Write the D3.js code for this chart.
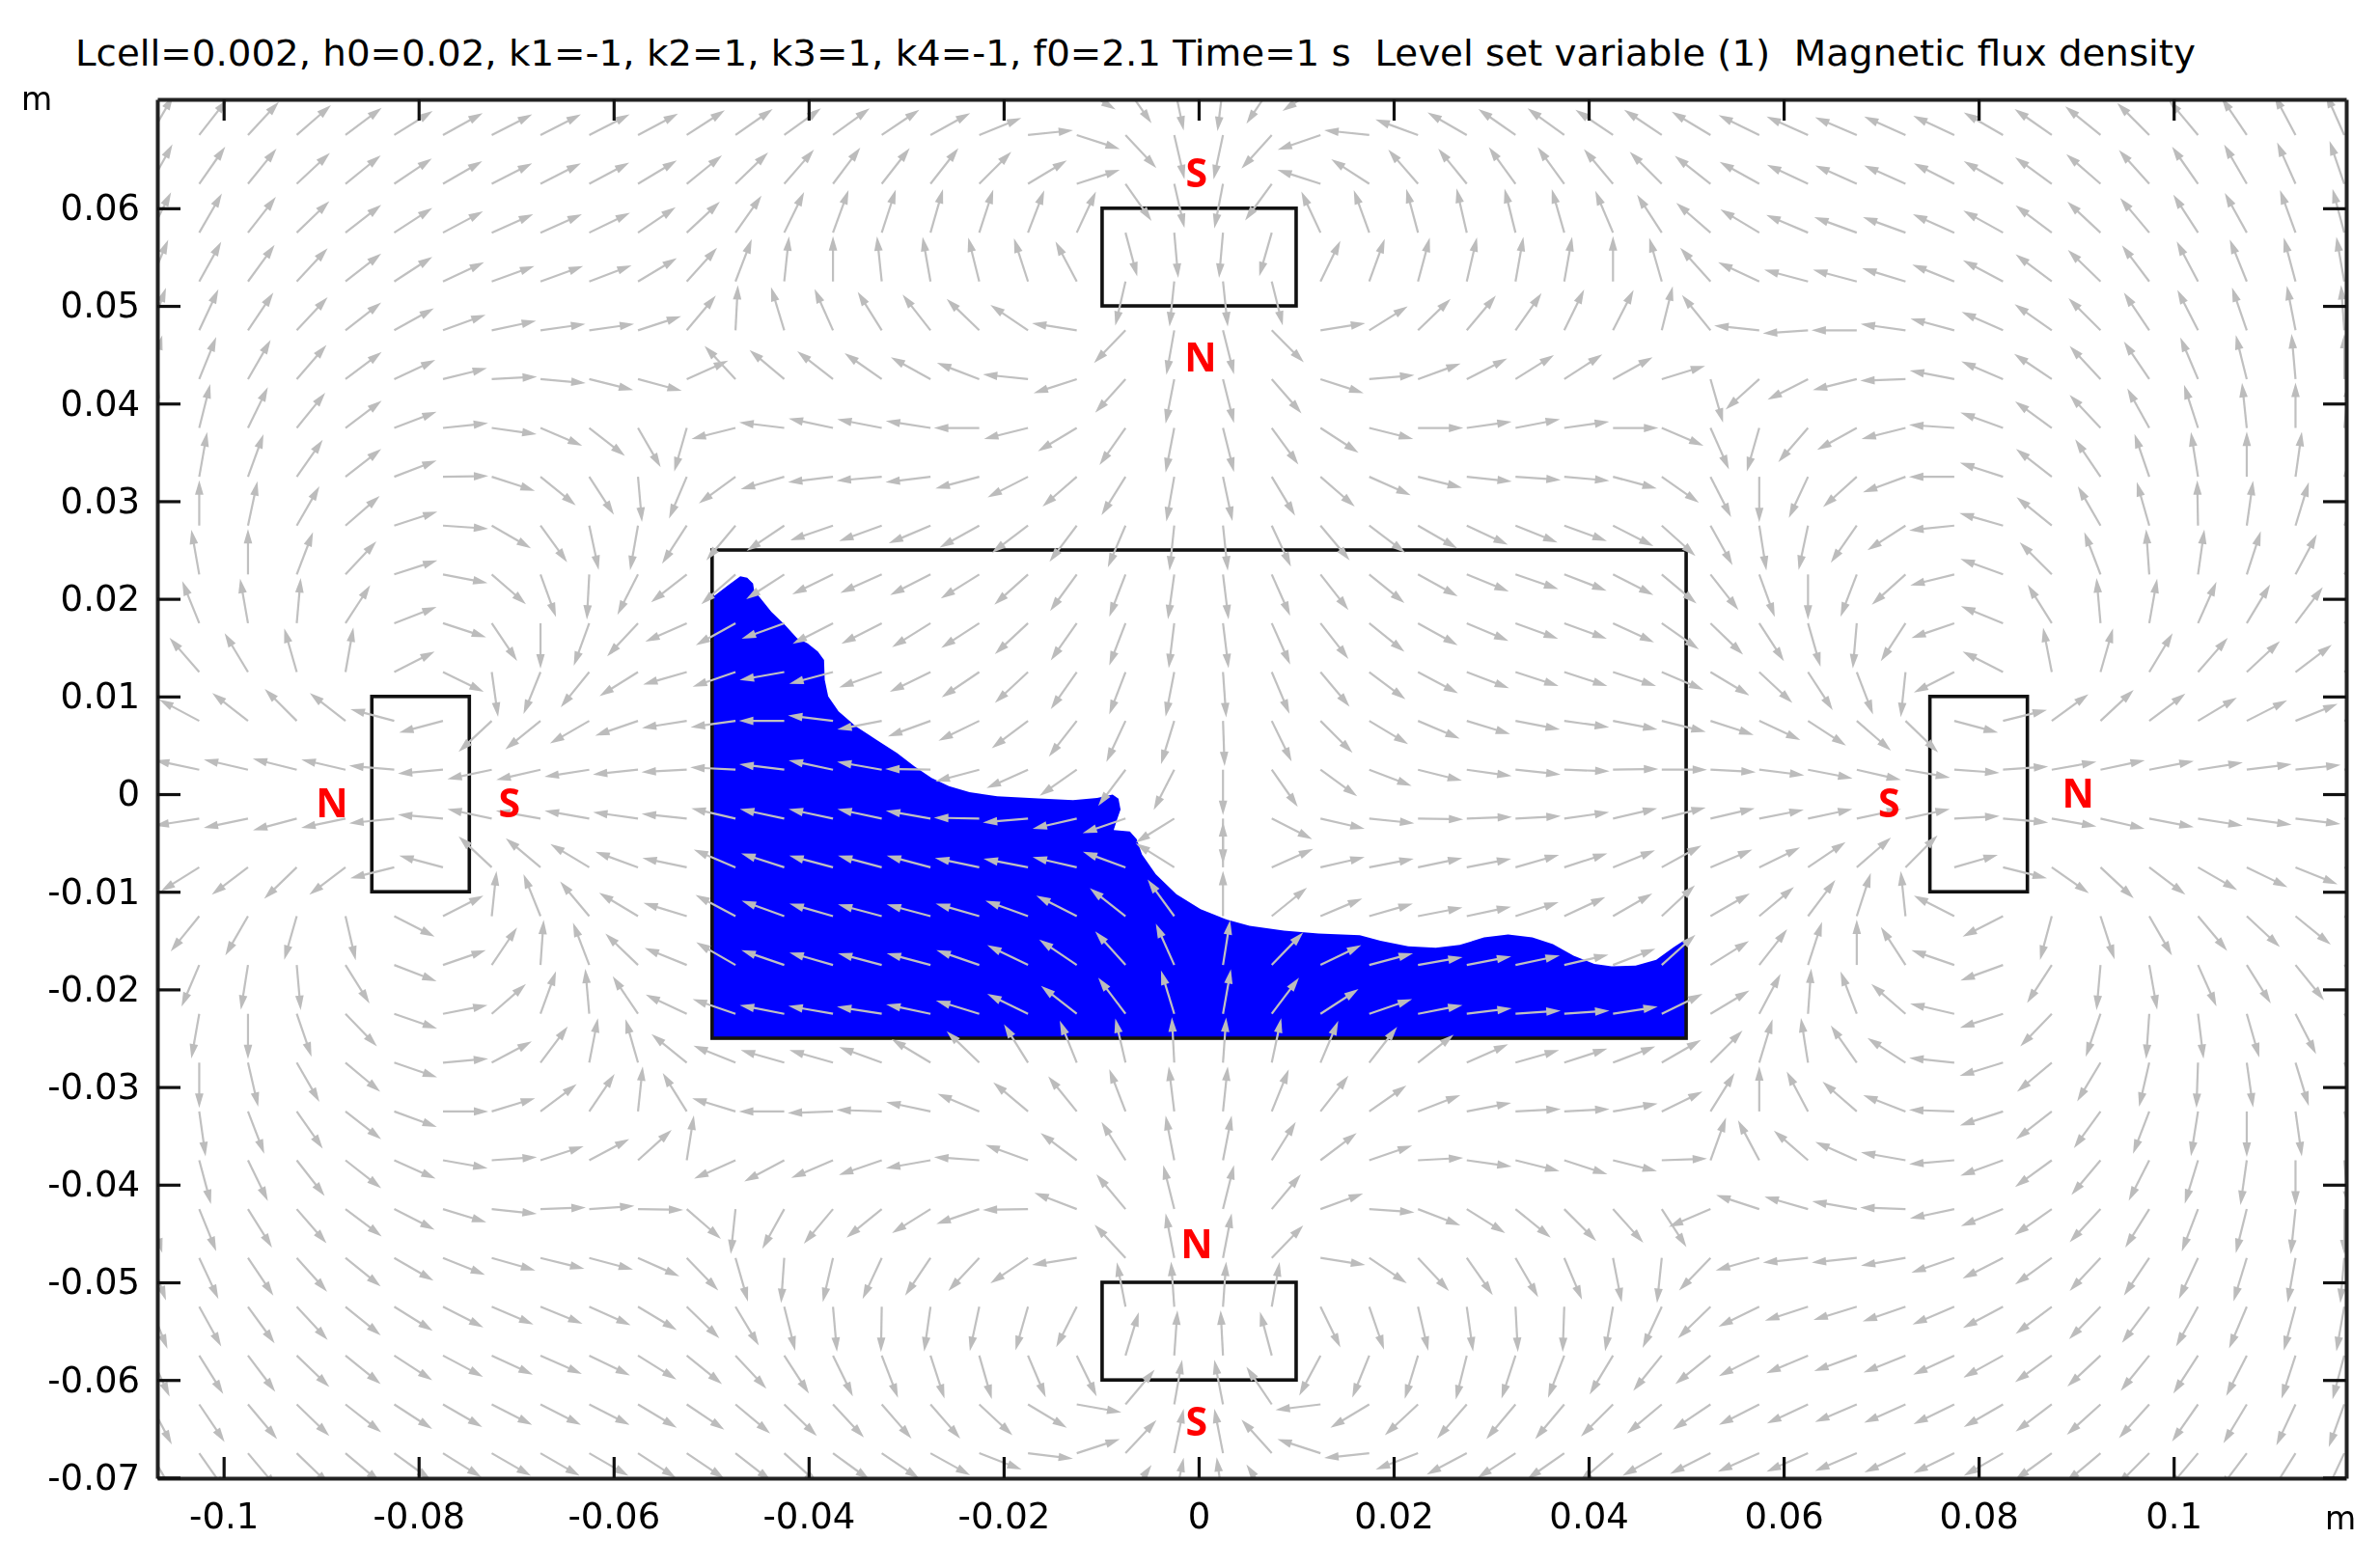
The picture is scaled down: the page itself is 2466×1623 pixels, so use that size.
<!DOCTYPE html>
<html>
<head>
<meta charset="utf-8">
<script src="https://cdn.jsdelivr.net/npm/d3@7"></script>
<style>
body { margin: 0; background: #fff; }
text { font-family: "DejaVu Sans", sans-serif; fill: #000; }
</style>
</head>
<body>
<div id="chart"></div>
<script>
var title = 'Lcell=0.002, h0=0.02, k1=-1, k2=1, k3=1, k4=-1, f0=2.1 Time=1 s  Level set variable (1)  Magnetic flux density';

var xTicks = [-0.1, -0.08, -0.06, -0.04, -0.02, 0, 0.02, 0.04, 0.06, 0.08, 0.1];
var xTickLabels = ['-0.1', '-0.08', '-0.06', '-0.04', '-0.02', '0', '0.02', '0.04', '0.06', '0.08', '0.1'];
var yTicks = [0.06, 0.05, 0.04, 0.03, 0.02, 0.01, 0, -0.01, -0.02, -0.03, -0.04, -0.05, -0.06, -0.07];
var yTickLabels = ['0.06', '0.05', '0.04', '0.03', '0.02', '0.01', '0', '-0.01', '-0.02', '-0.03', '-0.04', '-0.05', '-0.06', '-0.07'];

// sample points of the arrow field, metres
var gridX = [-0.1075, -0.1025, -0.0975, -0.0925, -0.0875, -0.0825, -0.0775, -0.0725, -0.0675, -0.0625, -0.0575, -0.0525, -0.0475, -0.0425, -0.0375, -0.0325, -0.0275, -0.0225, -0.0175, -0.0125, -0.0075, -0.0025, 0.0025, 0.0075, 0.0125, 0.0175, 0.0225, 0.0275, 0.0325, 0.0375, 0.0425, 0.0475, 0.0525, 0.0575, 0.0625, 0.0675, 0.0725, 0.0775, 0.0825, 0.0875, 0.0925, 0.0975, 0.1025, 0.1075, 0.1125, 0.1175];
var gridY = [0.0725, 0.0675, 0.0625, 0.0575, 0.0525, 0.0475, 0.0425, 0.0375, 0.0325, 0.0275, 0.0225, 0.0175, 0.0125, 0.0075, 0.0025, -0.0025, -0.0075, -0.0125, -0.0175, -0.0225, -0.0275, -0.0325, -0.0375, -0.0425, -0.0475, -0.0525, -0.0575, -0.0625, -0.0675, -0.0725];

// arrow direction in degrees at each sample, one row per gridY
var fieldAngles = [
[50,50,45,40,38,35,30,28,28,28,30,30,35,35,35,35,30,25,12,-31,-55,-78,-97,-124,-147,170,155,148,145,145,146,148,150,152,155,156,155,152,148,144,140,135,130,125,118,114],
[60,52,47,41,37,32,29,27,27,27,28,33,35,36,36,34,29,22,6,-18,-47,-77,-102,-132,-161,174,160,150,145,144,146,146,149,154,156,157,156,155,150,145,141,135,130,124,118,114],
[61,55,51,43,39,34,30,27,27,28,31,39,44,49,53,52,52,45,31,18,-55,-77,-101,-126,162,147,131,129,126,126,130,135,142,151,155,156,156,153,150,144,139,132,125,120,114,109],
[63,60,52,44,38,33,28,24,24,26,34,43,55,64,70,72,74,72,69,65,-75,-85,-95,-106,115,110,105,103,104,106,113,123,139,149,157,160,160,156,151,143,137,130,123,119,110,105],
[67,61,54,47,38,33,25,20,20,21,31,48,69,84,90,96,100,104,108,118,-103,-96,-84,-76,64,70,75,77,80,80,90,106,132,155,165,165,163,158,152,143,136,127,118,112,105,100],
[70,65,56,47,38,29,20,12,8,8,18,50,87,107,114,122,128,136,146,171,-134,-100,-76,-45,9,32,44,50,55,64,63,76,129,174,-176,180,172,165,156,145,135,124,117,109,101,94],
[75,68,60,49,37,25,14,3,-5,-14,-15,24,133,140,142,145,151,159,174,-162,-132,-101,-76,-49,-18,5,20,27,32,33,29,17,-74,-138,-153,-166,-178,169,157,146,133,124,113,104,95,90],
[80,76,64,51,37,21,6,-8,-23,-38,-60,-106,-166,173,168,169,171,180,-166,-149,-125,-101,-76,-54,-33,-14,0,8,11,8,0,-23,-66,-106,-131,-151,-166,176,160,144,133,119,108,96,90,84],
[85,80,70,55,38,21,1,-18,-39,-57,-85,-113,-144,-164,-173,-175,-173,-165,-153,-139,-122,-100,-78,-59,-41,-24,-14,-6,-4,-5,-15,-35,-63,-90,-115,-138,-160,180,162,142,124,109,99,90,82,72],
[95,90,78,60,41,18,-4,-30,-54,-78,-100,-123,-130,-146,-161,-160,-157,-151,-143,-127,-113,-96,-84,-65,-50,-37,-30,-25,-22,-20,-27,-42,-61,-81,-102,-125,-147,-174,164,141,120,106,91,82,73,65],
[110,100,90,69,47,18,-11,-41,-70,-93,-117,-142,-139,-147,-154,-156,-153,-148,-138,-126,-111,-98,-83,-66,-52,-39,-29,-22,-19,-21,-27,-40,-52,-70,-90,-111,-138,-166,160,135,111,94,82,72,62,55],
[125,112,100,85,57,21,-18,-56,-90,-110,-133,-156,-151,-160,-153,-153,-148,-147,-137,-125,-111,-97,-83,-66,-52,-39,-29,-23,-20,-20,-25,-35,-44,-57,-74,-95,-123,-161,158,122,95,80,66,59,53,48],
[140,131,121,106,80,27,-26,-82,-112,-129,-148,-164,-161,-170,-165,-160,-154,-146,-137,-125,-111,-101,-86,-67,-50,-37,-28,-21,-18,-18,-18,-23,-31,-43,-57,-69,-96,-153,153,101,74,59,49,43,37,35],
[155,152,142,135,142,165,-165,-137,-141,-150,-161,-171,-172,180,173,-169,-160,-154,-143,-128,-115,-107,-88,-64,-45,-31,-23,-17,-11,-8,-11,-14,-18,-25,-33,-41,-44,-15,14,36,43,37,31,27,22,20],
[170,168,167,166,167,175,-175,-168,-167,-171,-174,-177,177,173,168,170,179,-165,-156,-145,-127,-117,-90,-55,-36,-21,-14,-8,-6,-2,1,0,-3,-7,-11,-13,-10,-4,4,10,12,11,9,7,6,5],
[-170,-171,-168,-165,-168,-174,175,168,170,170,172,174,167,168,168,168,170,179,-175,-167,-161,-148,-90,-27,-13,-6,-1,2,3,8,13,14,13,11,12,12,12,3,-5,-10,-13,-11,-9,-8,-7,-6],
[-155,-148,-143,-136,-143,-166,165,137,140,149,160,168,157,162,165,165,165,168,169,167,160,148,90,24,13,11,12,11,16,18,22,29,23,26,34,41,45,16,-14,-35,-43,-37,-30,-26,-22,-20],
[-135,-129,-120,-106,-77,-27,27,84,112,130,149,163,152,160,164,165,165,164,160,153,142,126,90,39,23,16,11,12,18,25,30,43,30,40,53,72,96,153,-153,-105,-72,-60,-50,-43,-39,-35],
[-120,-113,-99,-85,-58,-21,19,56,86,111,136,158,150,161,164,165,165,161,154,146,132,114,81,46,26,15,10,11,12,13,21,42,32,52,72,90,123,161,-160,-123,-95,-80,-66,-58,-51,-47],
[-105,-100,-90,-71,-46,-19,11,41,70,95,124,155,161,169,170,171,168,163,154,142,127,107,80,53,33,19,11,7,4,4,9,26,31,62,86,111,139,167,-162,-134,-109,-94,-83,-74,-63,-55],
[-95,-90,-77,-60,-40,-19,5,28,53,79,106,141,158,164,164,160,149,136,122,112,103,93,86,78,67,52,38,24,16,18,21,30,45,73,99,125,147,174,-163,-140,-121,-103,-92,-82,-73,-65],
[-90,-82,-69,-55,-38,-20,0,17,37,56,84,122,163,180,-178,178,168,157,140,129,111,97,84,68,52,35,21,11,3,3,10,26,58,90,118,139,159,178,-162,-142,-126,-111,-99,-90,-82,-75],
[-85,-75,-64,-52,-38,-24,-10,4,18,28,42,81,-156,-152,-157,-161,-170,176,160,143,122,101,79,58,37,19,3,-8,-14,-18,-14,2,70,118,139,156,170,-175,-160,-144,-130,-117,-107,-98,-90,-85],
[-75,-68,-58,-49,-37,-27,-17,-6,2,4,-1,-41,-96,-119,-130,-141,-148,-161,-179,159,130,104,76,50,20,-4,-21,-32,-39,-45,-48,-57,-157,162,164,170,178,-168,-158,-145,-133,-122,-111,-104,-96,-90],
[-70,-65,-56,-48,-39,-30,-22,-16,-14,-15,-24,-46,-74,-94,-103,-115,-124,-133,-146,-171,133,101,79,46,-9,-34,-47,-55,-60,-67,-79,-96,-134,-164,-174,-174,-170,-161,-153,-144,-133,-124,-115,-107,-100,-95],
[-68,-61,-54,-47,-39,-32,-27,-23,-22,-24,-31,-44,-59,-76,-85,-91,-98,-102,-106,-117,101,94,86,80,-64,-71,-77,-82,-87,-92,-100,-115,-136,-154,-162,-163,-161,-157,-152,-143,-134,-127,-119,-113,-105,-100],
[-65,-58,-53,-44,-39,-33,-28,-25,-24,-26,-32,-39,-47,-57,-64,-69,-72,-74,-67,-64,73,86,93,105,-118,-112,-107,-104,-108,-111,-121,-129,-141,-153,-157,-160,-158,-155,-151,-144,-137,-129,-123,-117,-108,-105],
[-62,-56,-50,-44,-38,-33,-30,-27,-27,-27,-31,-34,-40,-44,-47,-49,-49,-43,-31,-10,50,80,101,124,-173,-149,-137,-131,-130,-130,-135,-140,-146,-153,-155,-157,-156,-154,-150,-143,-138,-132,-125,-121,-115,-110],
[-60,-55,-50,-44,-40,-36,-32,-30,-30,-30,-33,-34,-38,-42,-36,-34,-29,-21,-7,18,47,78,101,132,162,-174,-159,-152,-147,-145,-139,-150,-153,-156,-156,-157,-155,-154,-150,-144,-140,-135,-130,-127,-122,-115],
[-55,-50,-46,-42,-40,-38,-36,-34,-34,-34,-35,-36,-38,-38,-35,-30,-25,-15,-5,20,55,78,98,124,160,-170,-160,-155,-152,-150,-150,-152,-155,-156,-156,-156,-155,-154,-150,-145,-140,-135,-130,-125,-120,-115]
];

// free surface of the liquid, left to right, then the tank floor
var surfaceX = [-0.0499, -0.04825, -0.04701, -0.0463, -0.0457, -0.04559, -0.04383, -0.04242, -0.04118, -0.04011, -0.03905, -0.03842, -0.03835, -0.03799, -0.03693, -0.03516, -0.03304, -0.03092, -0.02915, -0.02739, -0.02561, -0.0235, -0.02066, -0.01643, -0.01288, -0.01041, -0.00882, -0.00822, -0.00801, -0.00836, -0.00871, -0.00705, -0.00635, -0.00581, -0.0044, -0.00228, 0.0002, 0.00274, 0.00522, 0.00875, 0.01229, 0.01653, 0.01865, 0.02149, 0.02432, 0.02679, 0.02927, 0.03174, 0.03422, 0.03634, 0.03846, 0.04058, 0.04235, 0.04482, 0.04693, 0.04871, 0.05, 0.05, -0.0499];
var surfaceY = [0.02014, 0.02139, 0.02231, 0.02217, 0.02156, 0.02088, 0.01867, 0.01731, 0.01595, 0.01544, 0.01459, 0.01374, 0.0117, 0.01, 0.00847, 0.00694, 0.00557, 0.00421, 0.00285, 0.00166, 0.00081, 0.0002, -0.00022, -0.00045, -0.00062, -0.00039, -0.00004, -0.00048, -0.00157, -0.0026, -0.00369, -0.00382, -0.00463, -0.00617, -0.0082, -0.01025, -0.01178, -0.0128, -0.01348, -0.01399, -0.01427, -0.01444, -0.01501, -0.01559, -0.01573, -0.01545, -0.01467, -0.01437, -0.01467, -0.01536, -0.01654, -0.01739, -0.01764, -0.01757, -0.01696, -0.01569, -0.01484, -0.025, -0.025];

// rectangles: tank and four magnets [x0, x1, y0, y1]
var rects = [[-0.0499, 0.05, -0.025, 0.025], [-0.0099, 0.01, 0.05, 0.06], [-0.0099, 0.01, -0.06, -0.05], [-0.0848, -0.0748, -0.01, 0.01], [0.075, 0.085, -0.01, 0.01]];

var poleNames = ['S', 'N', 'N', 'S', 'N', 'S', 'S', 'N'];
var poleX = [-0.0002, 0.0002, -0.0002, -0.0002, -0.0889, -0.0707, 0.0708, 0.0902];
var poleY = [0.0637, 0.0449, -0.0459, -0.0641, -0.0008, -0.0008, -0.0008, 0.0002];

var width = 2466, height = 1623;
var left = 163, right = 2431, top_ = 103, bottom = 1532;
var arrowLen = 47, headLen = 15, headHalf = 4.4;

var x = d3.scaleLinear().domain([-0.1068, 0.1177]).range([left, right]);
var y = d3.scaleLinear().domain([0.07115, -0.07006]).range([top_, bottom]);

var svg = d3.select('#chart').append('svg')
    .attr('width', width)
    .attr('height', height)
    .style('display', 'block');

svg.append('clipPath').attr('id', 'plot-clip').append('rect')
    .attr('x', left).attr('y', top_).attr('width', right - left).attr('height', bottom - top_);

// the arrows in the reference are soft, only they get a slight blur
svg.append('filter').attr('id', 'soft')
    .attr('filterUnits', 'userSpaceOnUse')
    .attr('x', 0).attr('y', 0).attr('width', width).attr('height', height)
    .append('feGaussianBlur').attr('stdDeviation', 0.6);

svg.append('text')
    .attr('x', 78)
    .attr('y', 68)
    .attr('xml:space', 'preserve')
    .style('white-space', 'pre')
    .style('font-size', '38px')
    .attr('textLength', 2197)
    .attr('lengthAdjust', 'spacingAndGlyphs')
    .text(title);

// liquid
var surfacePts = surfaceX.map(function(v, i) { return [x(v), y(surfaceY[i])]; });
svg.append('path')
    .attr('d', d3.line().curve(d3.curveLinear)(surfacePts) + 'Z')
    .attr('fill', '#0000ff');

// tank and magnets
svg.selectAll('.box').data(rects).enter().append('rect')
    .attr('class', 'box')
    .attr('x', function(d) { return x(d[0]); })
    .attr('y', function(d) { return y(d[3]); })
    .attr('width', function(d) { return x(d[1]) - x(d[0]); })
    .attr('height', function(d) { return y(d[2]) - y(d[3]); })
    .attr('fill', 'none')
    .attr('stroke', '#111')
    .attr('stroke-width', 3.6);

// flux arrows, all the same length
var arrows = [];
fieldAngles.forEach(function(row, j) {
    row.forEach(function(a, i) {
        arrows.push({ x: gridX[i], y: gridY[j], angle: a });
    });
});

var arrowClip = svg.append('g').attr('clip-path', 'url(#plot-clip)');
var arrowLayer = arrowClip.append('g').attr('filter', 'url(#soft)');
var arrow = arrowLayer.selectAll('g').data(arrows).enter().append('g')
    .attr('transform', function(d) {
        return 'translate(' + x(d.x) + ',' + y(d.y) + ') rotate(' + (-d.angle) + ')';
    });
arrow.append('line')
    .attr('x2', arrowLen - headLen + 1)
    .attr('stroke', '#c0c0c0')
    .attr('stroke-width', 2.2);
arrow.append('path')
    .attr('d', 'M' + arrowLen + ' 0L' + (arrowLen - headLen) + ' ' + (-headHalf) + 'L' + (arrowLen - headLen) + ' ' + headHalf + 'Z')
    .attr('fill', '#bcbcbc');

// pole labels
svg.selectAll('.pole').data(poleNames).enter().append('text')
    .attr('class', 'pole')
    .attr('x', function(d, i) { return x(poleX[i]); })
    .attr('y', function(d, i) { return y(poleY[i]); })
    .attr('text-anchor', 'middle')
    .attr('dominant-baseline', 'central')
    .style('font-family', '"Liberation Sans Narrow", "Open Sans", sans-serif')
    .style('font-weight', 'bold')
    .style('font-size', '41px')
    .style('fill', '#ff0000')
    .text(function(d) { return d; });

// axes, ticks point into the plot on all four sides
var axisBottom = d3.axisBottom(x).tickValues(xTicks).tickSizeInner(-22).tickSizeOuter(0).tickPadding(26)
    .tickFormat(function(d, i) { return xTickLabels[i]; });
var axisLeft = d3.axisLeft(y).tickValues(yTicks).tickSizeInner(-24).tickSizeOuter(0).tickPadding(18)
    .tickFormat(function(d, i) { return yTickLabels[i]; });
var axisTop = d3.axisTop(x).tickValues(xTicks).tickSizeInner(-22).tickSizeOuter(0).tickFormat('');
var axisRight = d3.axisRight(y).tickValues(yTicks).tickSizeInner(-24).tickSizeOuter(0).tickFormat('');

function addAxis(gen, tx, ty) {
    var g = svg.append('g').attr('transform', 'translate(' + tx + ',' + ty + ')').call(gen);
    g.selectAll('line').attr('stroke', '#111').attr('stroke-width', 3.2);
    g.select('.domain').attr('stroke', '#222').attr('stroke-width', 4);
    g.selectAll('text').style('font-family', '"DejaVu Sans", sans-serif').style('font-size', '37px').style('fill', '#000');
    return g;
}
addAxis(axisBottom, 0, bottom);
addAxis(axisLeft, left, 0);
addAxis(axisTop, 0, top_);
addAxis(axisRight, right, 0);

// axis unit
svg.append('text').attr('x', 38).attr('y', 114).attr('text-anchor', 'middle').style('font-size', '33px').text('m');
svg.append('text').attr('x', 2425).attr('y', 1585).attr('text-anchor', 'middle').style('font-size', '33px').text('m');
</script>
</body>
</html>
